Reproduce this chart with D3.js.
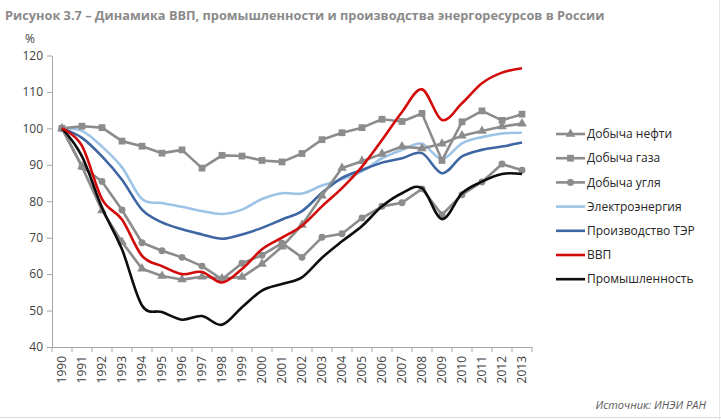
<!DOCTYPE html>
<meta charset="utf-8">
<title>Динамика ВВП, промышленности и производства энергоресурсов в России</title>
<head>
  <style>
    body { margin: 0; background: #fff; }
    svg { display: block; }
    .axis text { font-family: "Open Sans", sans-serif; font-size: 12px; fill: #404040; }
    .axis path, .axis line { stroke: #a6a6a6; stroke-width: 1; }
  </style>
</head>
<body>
<script src="https://cdn.jsdelivr.net/npm/d3@7"></script>
<script>
  // data, index 1990 = 100
  var years = ["1990","1991","1992","1993","1994","1995","1996","1997","1998","1999","2000","2001",
               "2002","2003","2004","2005","2006","2007","2008","2009","2010","2011","2012","2013"];
  var oil   = [100, 89.5, 77.5, 68.8, 61.5, 59.5, 58.5, 59.3, 58.8, 59.2, 62.8, 67.5,
               73.5, 81.5, 89.1, 91, 93, 95, 94.5, 95.8, 98, 99.3, 100.5, 101.3];
  var gas   = [100, 100.6, 100.2, 96.5, 95.1, 93.2, 94.1, 89.1, 92.6, 92.4, 91.2, 90.8,
               93.1, 96.9, 98.8, 100.2, 102.5, 101.9, 104.1, 91.2, 101.8, 104.8, 102.2, 103.9];
  var coal  = [100, 89.5, 85.4, 77.6, 68.6, 66.4, 64.6, 62.2, 58.6, 63, 65.2, 68.5,
               64.6, 70.1, 71.1, 75.4, 78.6, 79.6, 83.4, 76.3, 81.8, 85.3, 90.2, 88.5];
  var elec  = [100, 99.3, 95, 89.3, 80.6, 79.5, 78.5, 77.3, 76.5, 77.7, 80.6, 82.2,
               82.1, 84.3, 86, 88.2, 91.8, 94.1, 95.8, 91.6, 95.9, 97.6, 98.6, 98.8];
  var ter   = [100, 97.4, 92.3, 85.9, 77.7, 74.2, 72.3, 70.9, 69.7, 70.9, 72.7, 75,
               77.3, 82.3, 86.4, 88.6, 90.6, 91.8, 93.2, 87.7, 92.3, 94.1, 95, 96.1];
  var gdp   = [100, 95.2, 80.6, 75, 65, 62.2, 60, 60.6, 57.7, 61.4, 66.8, 70,
               73.3, 78.6, 83.6, 89.5, 96.8, 104.5, 110.7, 102.3, 106.9, 112.4, 115.3, 116.5];
  var indus = [100, 92.3, 78.2, 66.8, 51.4, 49.6, 47.5, 48.5, 46.1, 50.9, 55.5, 57.3,
               59.1, 64.5, 69, 73.2, 78.6, 82.2, 83.6, 75.1, 82.2, 85.4, 87.5, 87.5];
  var yTicks = [40, 50, 60, 70, 80, 90, 100, 110, 120];

  var names   = ["Добыча нефти", "Добыча газа", "Добыча угля", "Электроэнергия",
                 "Производство ТЭР", "ВВП", "Промышленность"];
  var colors  = ["#8c8c8c", "#8c8c8c", "#8c8c8c", "#9dc3e6", "#3d66a2", "#d20a0a", "#0d0d0d"];
  var markers = ["triangle", "square", "circle", null, null, null, null];

  var series = [oil, gas, coal, elec, ter, gdp, indus].map(function (vals, i) {
    return { name: names[i], color: colors[i], marker: markers[i],
             values: vals.map(function (v, j) { return { year: years[j], value: v }; }) };
  });

  var width = 721, height = 420;
  var plot = { left: 52, right: 532, top: 55.5, bottom: 347 };

  var svg = d3.select("body").append("svg")
      .attr("width", width)
      .attr("height", height);

  // scales
  var x = d3.scaleBand().domain(years).range([plot.left, plot.right]);
  var y = d3.scaleLinear().domain([40, 120]).range([plot.bottom, plot.top]);
  var cx = function (d) { return x(d.year) + x.bandwidth() / 2; };

  // title
  var title = svg.append("text")
      .attr("x", 5)
      .attr("y", 20)
      .style("font-family", "'Liberation Sans Narrow', 'Open Sans', sans-serif")
      .style("font-weight", "bold")
      .style("font-size", "16px")
      .style("fill", "#8a8a8a")
      .text("Рисунок 3.7 – Динамика ВВП, промышленности и производства энергоресурсов в России");
  var tw = title.node().getComputedTextLength();
  if (tw > 0) title.style("font-size", (16 * 600 / tw) + "px");

  // y axis
  svg.append("g")
      .attr("class", "axis")
      .attr("transform", "translate(" + plot.left + ",0)")
      .call(d3.axisLeft(y).tickValues(yTicks).tickSize(5).tickPadding(4).tickSizeOuter(0));

  svg.append("text")
      .attr("x", 30)
      .attr("y", 43)
      .style("text-anchor", "middle")
      .style("font-family", "'Open Sans', sans-serif")
      .style("font-size", "12px")
      .style("fill", "#404040")
      .text("%");

  // x axis with ticks between categories
  var xAxis = svg.append("g")
      .attr("class", "axis")
      .attr("transform", "translate(0," + plot.bottom + ")")
      .call(d3.axisBottom(x).tickSize(0).tickPadding(0));
  xAxis.selectAll(".tick text")
      .attr("transform", "rotate(-90)")
      .attr("x", -9)
      .attr("y", 0)
      .attr("dy", "0.35em")
      .style("text-anchor", "end");
  xAxis.selectAll(".sep")
      .data(years.concat(["end"]))
      .enter().append("line")
      .attr("x1", function (d, i) { return plot.left + i * x.bandwidth(); })
      .attr("x2", function (d, i) { return plot.left + i * x.bandwidth(); })
      .attr("y1", 0)
      .attr("y2", 5);

  // lines
  var smooth = d3.line().x(cx).y(function (d) { return y(d.value); }).curve(d3.curveCatmullRom.alpha(0));
  var straight = d3.line().x(cx).y(function (d) { return y(d.value); });

  var drawOrder = [3, 4, 0, 1, 2, 6, 5];
  drawOrder.forEach(function (i) {
    var s = series[i];
    svg.append("path")
        .datum(s.values)
        .attr("fill", "none")
        .attr("stroke", s.color)
        .attr("stroke-width", 2.6)
        .attr("stroke-linejoin", "round")
        .attr("d", s.marker ? straight : smooth);
    if (s.marker) drawMarkers(svg, s.values, s.marker, s.color);
  });

  function symbolFor(kind) {
    if (kind === "square") return d3.symbol().type(d3.symbolSquare).size(46);
    if (kind === "triangle") return d3.symbol().type(d3.symbolTriangle).size(40);
    return d3.symbol().type(d3.symbolCircle).size(38);
  }

  function drawMarkers(g, vals, kind, color) {
    g.selectAll(null)
        .data(vals)
        .enter().append("path")
        .attr("d", symbolFor(kind))
        .attr("transform", function (d) { return "translate(" + cx(d) + "," + y(d.value) + ")"; })
        .attr("fill", color);
  }

  // legend
  var legend = svg.append("g").attr("transform", "translate(556,134)");
  series.forEach(function (s, i) {
    var row = legend.append("g").attr("transform", "translate(0," + (i * 24.2) + ")");
    row.append("line")
        .attr("x1", 0).attr("x2", 29)
        .attr("stroke", s.color)
        .attr("stroke-width", 2.6);
    if (s.marker) {
      row.append("path")
          .attr("d", symbolFor(s.marker))
          .attr("transform", "translate(14.5,0)")
          .attr("fill", s.color);
    }
    row.append("text")
        .attr("x", 31)
        .attr("dy", "0.35em")
        .style("font-family", "'Open Sans', sans-serif")
        .style("font-size", "12px")
        .style("fill", "#262626")
        .text(s.name);
  });

  // source
  svg.append("text")
      .attr("x", 706)
      .attr("y", 409)
      .style("text-anchor", "end")
      .style("font-family", "'Liberation Sans Narrow', 'Open Sans', sans-serif")
      .style("font-style", "italic")
      .style("font-size", "11px")
      .style("fill", "#595959")
      .text("Источник: ИНЭИ РАН");

  // frame lines at the picture edge
  svg.append("line").attr("x1", 0).attr("x2", width).attr("y1", 417.5).attr("y2", 417.5)
      .attr("stroke", "#d9d9d9");
  svg.append("line").attr("x1", 719.5).attr("x2", 719.5).attr("y1", 0).attr("y2", height)
      .attr("stroke", "#e6e6e6");
</script>
</body>
